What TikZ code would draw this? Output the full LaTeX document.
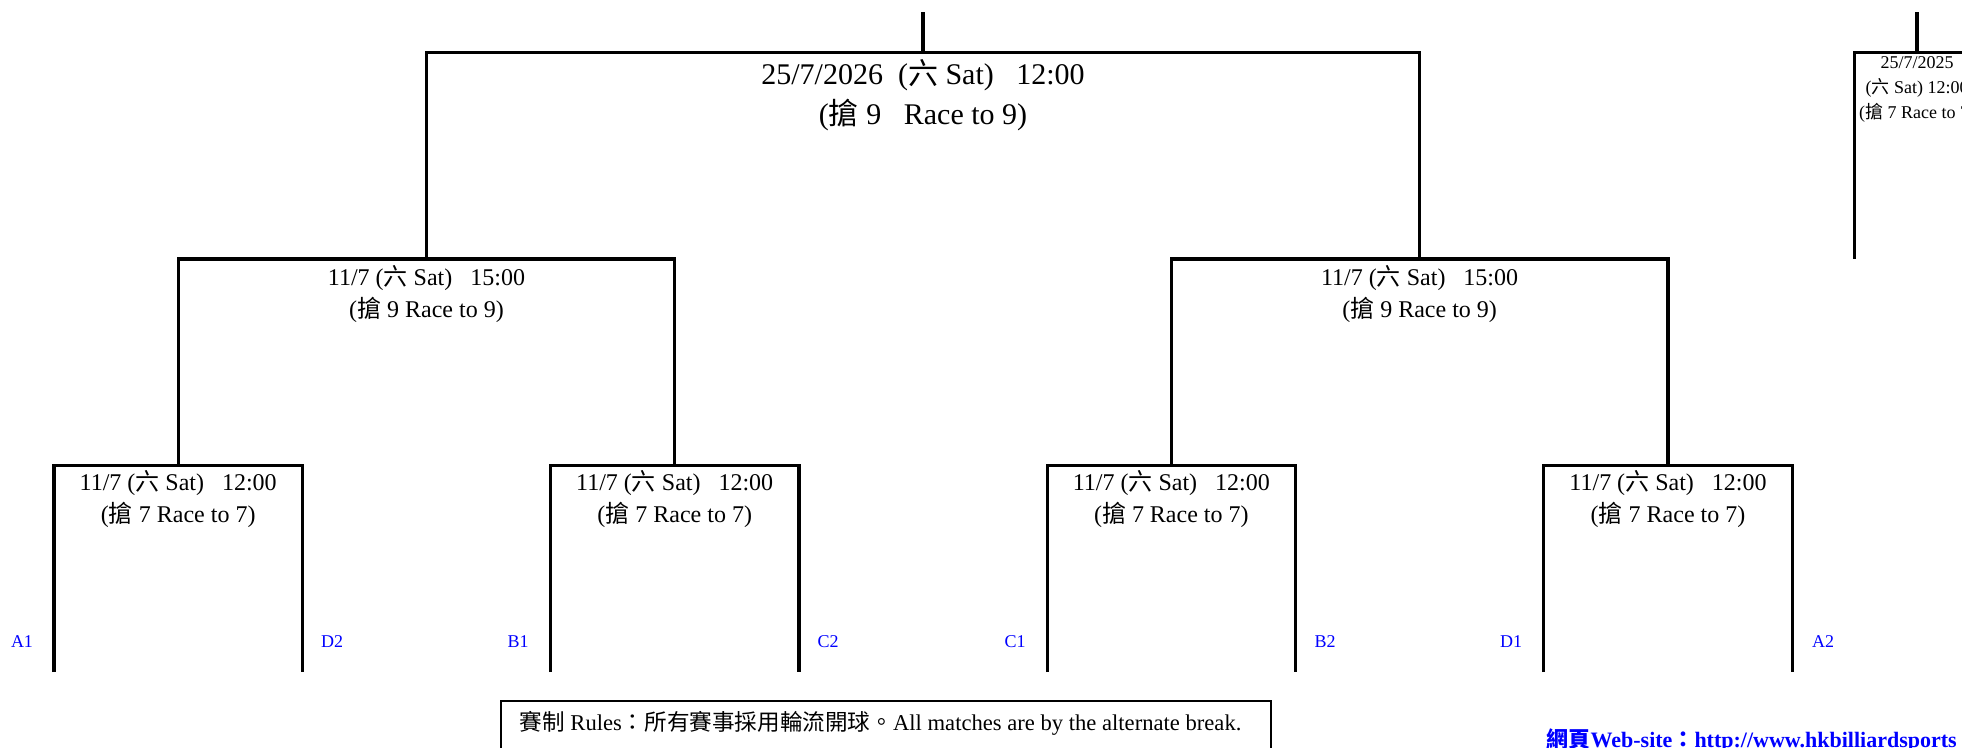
\documentclass[tikz,border=0pt]{standalone}
\usepackage{fontspec}
\setmainfont{Liberation Serif}
\newfontfamily\cjk{Noto Sans CJK TC}
\newcommand{\zh}[1]{{\cjk #1}}

\begin{document}
\begin{tikzpicture}[x=0.5pt,y=-0.5pt,line width=1.6pt,
  game/.style={align=center,inner sep=0pt,font=\fontsize{12}{16}\selectfont},
  seed/.style={text=blue,inner sep=0pt,font=\fontsize{9}{10}\selectfont}]
\useasboundingbox (0,0) rectangle (1962,748);
\clip (0,0) rectangle (1962,748);
\coordinate (a1) at (54,672);
\coordinate (d2) at (302.3,672);
\coordinate (b1) at (550.6,672);
\coordinate (c2) at (798.9,672);
\coordinate (c1) at (1047.2,672);
\coordinate (b2) at (1295.5,672);
\coordinate (d1) at (1543.8,672);
\coordinate (a2) at (1792.1,672);
\coordinate (q1) at (178.2,465.5);
\coordinate (q2) at (674.7,465.5);
\coordinate (q3) at (1171.3,465.5);
\coordinate (q4) at (1668,465.5);
\coordinate (s1) at (426.5,259);
\coordinate (s2) at (1419.6,259);
\coordinate (f) at (923,52.6);
\coordinate (top) at (923,12.5);
\coordinate (p) at (1917,52.6);
\coordinate (ptop) at (1917,12.5);
\coordinate (pl) at (1854.5,259);
\coordinate (pr) at (2000,259);
\draw (a1) |- (q1) -| (d2);
\draw (b1) |- (q2) -| (c2);
\draw (c1) |- (q3) -| (b2);
\draw (d1) |- (q4) -| (a2);
\draw (q1) |- (s1) -| (q2);
\draw (q3) |- (s2) -| (q4);
\draw (s1) |- (f) -| (s2);
\draw (f) -- (top);
\draw (pl) |- (p) -| (pr);
\draw (p) -- (ptop);
\node[game,font=\fontsize{15}{20}\selectfont] (tf) at (923,95.5) {25/7/2026\ \ (\zh{六} Sat)\ \ \ 12:00\\(\zh{搶} 9\ \ \ Race to 9)};
\node[game] (ts1) at (426.5,294) {11/7 (\zh{六} Sat)\ \ \ 15:00\\(\zh{搶} 9 Race to 9)};
\node[game] (ts2) at (1419.6,294) {11/7 (\zh{六} Sat)\ \ \ 15:00\\(\zh{搶} 9 Race to 9)};
\node[game] (tq1) at (178.2,499) {11/7 (\zh{六} Sat)\ \ \ 12:00\\(\zh{搶} 7 Race to 7)};
\node[game] (tq2) at (674.7,499) {11/7 (\zh{六} Sat)\ \ \ 12:00\\(\zh{搶} 7 Race to 7)};
\node[game] (tq3) at (1171.3,499) {11/7 (\zh{六} Sat)\ \ \ 12:00\\(\zh{搶} 7 Race to 7)};
\node[game] (tq4) at (1668,499) {11/7 (\zh{六} Sat)\ \ \ 12:00\\(\zh{搶} 7 Race to 7)};
\node[game,font=\fontsize{9}{12.5}\selectfont] (tp) at (1917,89.5) {25/7/2025\\(\zh{六} Sat) 12:00\\(\zh{搶} 7 Race to 7)};
\node[seed] (la1) at (22,642) {A1};
\node[seed] (ld2) at (332,642) {D2};
\node[seed] (lb1) at (518,642) {B1};
\node[seed] (lc2) at (828,642) {C2};
\node[seed] (lc1) at (1015,642) {C1};
\node[seed] (lb2) at (1325,642) {B2};
\node[seed] (ld1) at (1511,642) {D1};
\node[seed] (la2) at (1823,642) {A2};
\draw[line width=1pt] (500.5,790) rectangle (1271,700.7);
\node[anchor=west,inner sep=0pt,font=\fontsize{11.3}{13}\selectfont] (rules) at (518,723) {\zh{賽制} Rules\zh{：所有賽事採用輪流開球。}All matches are by the alternate break.};
\node[anchor=base west,inner sep=0pt,text=blue,font=\bfseries\fontsize{11}{13}\selectfont] (web) at (1545,747.5) {\zh{網頁}Web-site\zh{：}http://www.hkbilliardsports};
\end{tikzpicture}
\end{document}
